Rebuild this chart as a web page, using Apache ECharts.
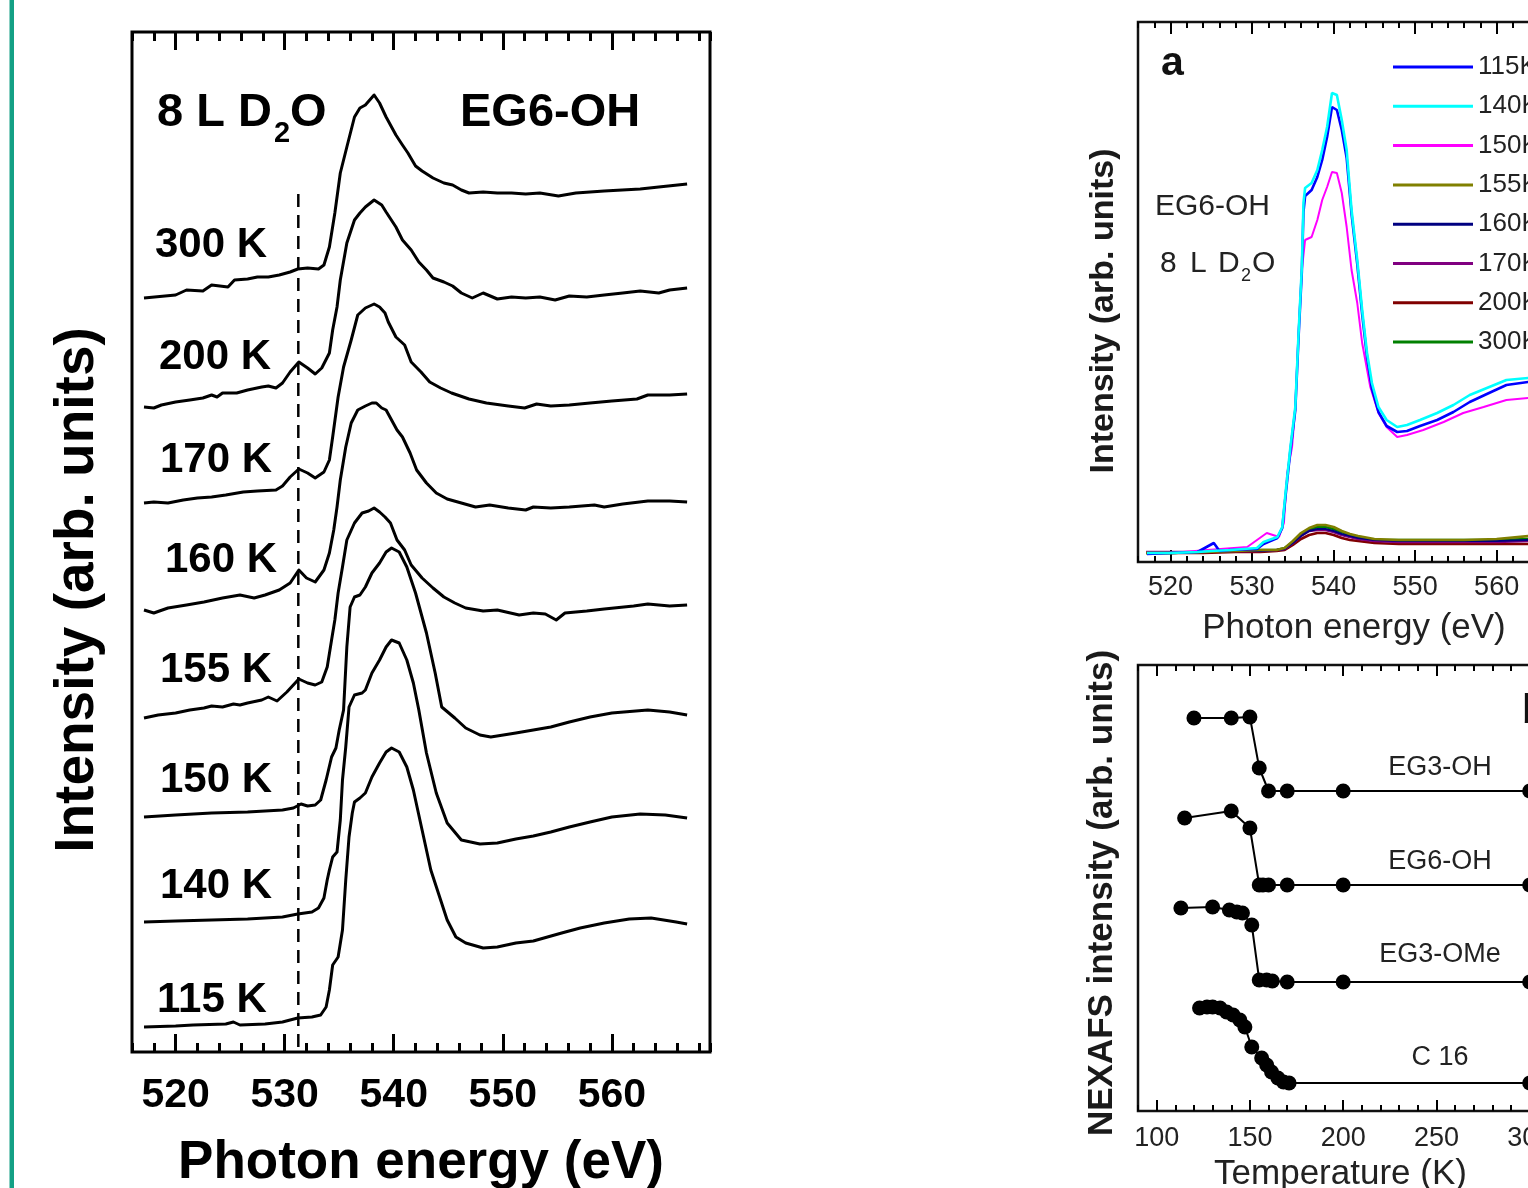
<!DOCTYPE html>
<html><head><meta charset="utf-8">
<script src="https://cdn.jsdelivr.net/npm/echarts@6/dist/echarts.min.js"></script>
<style>html,body{margin:0;padding:0;background:#fff}#c{width:1528px;height:1188px}</style>
</head><body><div id="c"></div>
<script>
// ---------- Left panel: stacked NEXAFS spectra (energy eV, offset intensity) ----------
const spec300K = [[517.1,754],[520,757],[521,762],[522.5,761],[523.3,767],[524.8,765],[525.4,772],[526.6,773],[527.5,775],[528.5,775],[529.5,777],[530.5,780],[531.2,783],[532.1,784],[533.1,783],[533.6,787],[534.1,805],[534.6,839],[535.1,879],[535.7,905],[536.4,935],[536.9,944],[537.4,947],[538.2,957],[538.7,949],[539.3,935],[540.2,917],[540.8,907],[541.3,899],[542,886],[542.6,881],[543.6,874],[544.6,869],[545.4,867],[546.2,862],[546.9,859],[548.2,860],[549.5,859],[550.8,859],[552.1,858],[553.4,859],[555.1,856],[556.7,859],[559.3,861],[562.6,863],[564.3,865],[566.9,868]];
const spec200K = [[517.1,645],[518,644],[518.7,647],[520,650],[521.3,652],[522.5,654],[523.3,657],[523.8,655],[524.3,659],[525.6,659],[526.6,662],[527.9,665],[528.5,666],[529.2,664],[529.8,669],[530.5,680],[531.3,690],[532.1,684],[532.8,678],[533.4,684],[534.1,699],[534.4,722],[534.8,745],[535.1,772],[535.7,809],[536.4,832],[536.9,839],[537.4,845],[538.2,852],[538.9,847],[539.3,840],[540.2,825],[540.8,812],[541.6,802],[542.3,790],[543,782],[543.6,774],[544.6,770],[545.4,766],[546.2,759],[547.2,754],[548.2,759],[549.5,753],[550.8,755],[552.1,754],[553.4,755],[554.8,752],[556.1,756],[557.7,755],[559.3,757],[561,759],[562.6,761],[564.3,759],[565.3,762],[566.9,764]];
const spec170K = [[517.1,549],[518,550],[519.3,549],[520.7,552],[522,554],[523.3,555],[524.6,557],[526.2,560],[527.5,561],[529.2,562],[529.8,566],[530.5,575],[531.3,583],[532.1,579],[532.8,574],[533.6,580],[534.1,592],[534.4,615],[534.9,655],[535.4,685],[536.1,712],[536.7,737],[537.4,744],[538.2,748],[538.7,745],[539.2,739],[539.5,730],[540.2,715],[541,707],[541.6,690],[542.5,680],[543.3,670],[544.3,664],[545.3,659],[546.9,653],[548.5,649],[550.5,646],[552,644],[553.1,648],[554.4,646],[556.1,647],[558,649],[560,651],[562.3,653],[563.3,657],[565.3,657],[566.9,658]];
const spec160K = [[517.1,442],[518,439],[519.3,444],[521,447],[522.6,450],[524.3,454],[525.9,457],[527.2,454],[528.2,457],[529.5,462],[530.5,469],[531.3,482],[532,474],[532.8,470],[533.6,482],[534.1,499],[534.5,522],[534.8,545],[535.1,572],[535.6,605],[536.1,629],[536.7,642],[537.4,646],[538,649],[538.4,649],[538.9,644],[539.3,642],[539.8,632],[540.3,622],[540.8,615],[541.5,599],[542.1,582],[543,569],[543.9,559],[544.9,553],[546.2,549],[547.5,545],[548.8,547],[550.5,544],[552.1,542],[552.8,545],[554.4,544],[556.1,545],[558.4,547],[559.3,545],[561,548],[563.3,551],[565.3,551],[566.9,550]];
const spec155K = [[517.1,334],[518.4,337],[520,339],[521.3,342],[522.6,344],[523.3,346],[524.3,345],[525.3,348],[525.9,347],[526.6,349],[527.9,352],[528.5,355],[529.3,351],[530.2,360],[531.3,373],[532.1,369],[532.8,367],[533.4,370],[533.9,385],[534.3,412],[534.6,432],[534.9,459],[535.3,485],[535.7,512],[536.4,529],[537.1,539],[537.7,541],[538.2,544],[538.7,540],[539.2,535],[539.7,529],[540.3,512],[541,502],[541.6,487],[542.6,474],[543.6,464],[544.6,455],[545.6,449],[546.6,444],[548.2,441],[549.5,442],[551.5,437],[552.8,439],[553.9,438],[554.9,432],[555.7,439],[557.7,441],[559.3,443],[562,446],[563.3,448],[565.3,446],[566.9,447]];
const spec150K = [[517.1,235],[520,237],[523.3,239],[526.6,240],[529.8,242],[530.8,244],[531.5,248],[532.1,246],[532.8,247],[533.3,252],[533.8,272],[534.3,295],[534.7,304],[535,322],[535.4,342],[535.7,405],[536,445],[536.4,455],[536.9,457],[537.4,465],[538,479],[538.7,489],[539.3,500],[539.8,504],[540.5,500],[541.2,485],[542,459],[543,419],[543.8,379],[544.4,345],[545.6,334],[546.6,324],[547.9,317],[548.9,315],[551.2,319],[552.8,322],[554.4,325],[556.1,330],[558,335],[560,339],[563.3,342],[565.3,340],[566.9,337]];
const spec140K = [[517.1,130],[520,131],[523.3,132],[526.6,133],[529.8,135],[531.2,138],[532.5,140],[533.1,144],[533.6,154],[533.9,172],[534.1,182],[534.4,195],[534.8,200],[535.1,232],[535.3,272],[535.6,305],[535.9,345],[536.4,357],[537.1,359],[537.4,362],[538,379],[538.7,392],[539.3,405],[539.8,412],[540.5,409],[541.2,392],[541.8,369],[542.3,342],[543,299],[543.9,259],[544.9,229],[546.2,212],[547.9,208],[549.5,209],[551.2,213],[552.8,216],[554.4,220],[556.1,225],[558,230],[560,235],[562.6,238],[564.9,237],[566.9,234]];
const spec115K = [[517.1,25],[520,26],[521.6,27],[524.6,28],[525.3,30],[525.9,27],[528.2,28],[529.8,30],[531.2,34],[532.5,35],[533.3,37],[533.8,45],[534.1,62],[534.4,87],[534.9,95],[535.3,122],[535.6,172],[535.9,215],[536.2,239],[536.4,250],[536.9,254],[537.4,259],[538,275],[538.7,289],[539.3,300],[539.8,304],[540.5,300],[541.2,285],[541.8,262],[542.6,222],[543.4,182],[544.3,152],[544.9,132],[545.7,115],[546.6,109],[548.2,104],[549.5,105],[551.2,109],[552.8,111],[555.4,119],[557.1,124],[559.3,129],[561.6,133],[563.6,134],[565.9,130],[566.9,128]];
const leftLabels = ['300 K','200 K','170 K','160 K','155 K','150 K','140 K','115 K'];
const dashedEnergy = 531.25;
const dashedRange = [5, 862];

// ---------- Panel a: overlaid spectra ----------
const aLowE = [517,520,524,528,531,533,534,535,536,537,538,539,540,541,542,543,545,548,552,556,560,564];
const a300K = [9,9,10,11,12,12,14,20,27,32,35,35,33,30,27,25,22,22,22,22,22,23];
const a200K = [9,9,9,10,10,11,12,17,23,27,29,29,27,24,22,21,19,18,18,18,18,18];
const a155K = [9,9,10,11,12,12,14,21,29,34,37,37,35,31,28,26,23,22,22,22,23,26];
const a160K = [9,9,10,11,11,12,13,19,26,31,33,33,31,28,26,24,22,21,21,21,21,22];
const a170K = [10,10,10,11,11,12,13,19,26,31,32,32,30,27,25,23,21,20,20,20,20,21];
const a140K = [[517.1,9],[520,9],[523.3,10],[525,11],[527.3,12],[530.6,14],[531.4,20],[533.1,25],[533.7,35],[534.1,69],[534.7,115],[535.3,155],[535.7,229],[536.1,295],[536.3,359],[536.5,374],[537.3,379],[538,392],[538.6,412],[539.2,435],[539.8,469],[540.4,467],[541,442],[541.6,412],[542.2,352],[542.9,302],[543.5,252],[544.1,209],[544.7,179],[545.5,155],[546.5,142],[547.8,135],[549,137],[550.6,142],[552.7,149],[554.7,157],[556.7,167],[558.8,174],[561.2,182],[563.9,184],[566,185]];
const a115K = [[517.1,8],[520,9],[523.3,10],[525.3,19],[526,11],[527.3,12],[530.6,13],[531.4,18],[533.1,24],[533.7,34],[534.1,66],[534.7,112],[535.3,152],[535.7,225],[536.1,290],[536.3,350],[536.5,366],[537.3,372],[538,385],[538.6,402],[539.2,425],[539.8,455],[540.4,452],[541,432],[541.6,404],[542.2,348],[542.9,298],[543.5,248],[544.1,205],[544.7,173],[545.5,150],[546.5,136],[547.8,130],[549,131],[550.6,136],[552.7,142],[554.7,150],[556.7,160],[558.8,168],[561.2,177],[563.9,180],[566,181]];
const a150K = [[517.1,9],[520,9],[524.5,12],[529.4,15],[530.6,22],[531.8,29],[533.3,25],[533.9,39],[534.3,89],[534.9,115],[535.3,155],[535.7,229],[536.1,292],[536.5,322],[537.3,325],[538,342],[538.6,362],[539.2,375],[539.8,390],[540.4,389],[541,369],[541.6,335],[542.2,292],[542.9,259],[543.5,219],[544.5,175],[545.5,149],[546.5,135],[547.8,125],[549,127],[551,132],[553.5,140],[555.9,149],[558.4,155],[561.2,162],[563.9,164],[566,165]];
const legendNames = ['115K','140K','150K','155K','160K','170K','200K','300K'];

// ---------- Panel b: NEXAFS intensity vs temperature ----------
const bEG3OH_T = [120,140,150,155,160,170,200,300];
const bEG3OH_V = [393,393,394,343,320,320,320,320];
const bEG6OH_T = [115,140,150,155,157,160,170,200,300];
const bEG6OH_V = [293,300,283,226,226,226,226,226,226];
const bEG3OMe_T = [113,130,139,143,146,151,155,159,162,170,200,300];
const bEG3OMe_V = [203,204,201,199,198,186,131,131,130,129,129,129];
const bC16_T = [123,127,130,134,137.5,141,144.6,147.3,151,156.3,159,161.6,165,168,171,300];
const bC16_V = [103,104,104,103,99,96,91,84,64,53,46,39,33,29,28,28];
const bNames = ['EG3-OH','EG6-OH','EG3-OMe','C 16'];

const FF = '"Liberation Sans", Arial, sans-serif';
const chart = echarts.init(document.getElementById('c'));

function zip(a, b) { return a.map((x, i) => [x, b[i]]); }

function axisSet(gi, min, max, majors, minorInt, majLen, minLen, w, label, name, nameGap, nameStyle) {
  const base = { type: 'value', gridIndex: gi, min: min, max: max, axisLine: { show: false }, splitLine: { show: false } };
  return [
    Object.assign({}, base, {
      position: 'bottom',
      axisTick: { show: true, inside: true, length: majLen, lineStyle: { color: '#000', width: w }, customValues: majors },
      axisLabel: Object.assign({ customValues: majors }, label),
      name: name, nameLocation: 'middle', nameGap: nameGap, nameTextStyle: nameStyle
    }),
    Object.assign({}, base, { position: 'bottom', interval: minorInt,
      axisTick: { show: true, inside: true, length: minLen, lineStyle: { color: '#000', width: w } }, axisLabel: { show: false } }),
    Object.assign({}, base, { position: 'top',
      axisTick: { show: true, inside: true, length: majLen, lineStyle: { color: '#000', width: w }, customValues: majors }, axisLabel: { show: false } }),
    Object.assign({}, base, { position: 'top', interval: minorInt,
      axisTick: { show: true, inside: true, length: minLen, lineStyle: { color: '#000', width: w } }, axisLabel: { show: false } })
  ];
}

const xAxes = [].concat(
  axisSet(0, 516, 569, [520,530,540,550,560], 2, 18, 9, 3,
    { fontSize: 41, fontWeight: 'bold', color: '#000', margin: 23, fontFamily: FF },
    'Photon energy (eV)', 85, { fontSize: 53, fontWeight: 'bold', color: '#000', fontFamily: FF }),
  axisSet(1, 516, 569, [520,530,540,550,560], 2, 12, 6, 2,
    { fontSize: 27, color: '#222', margin: 12, fontFamily: FF },
    'Photon energy (eV)', 49, { fontSize: 35, color: '#222', fontFamily: FF }),
  axisSet(2, 90, 320, [100,150,200,250,300], 10, 11, 6, 2,
    { fontSize: 27, color: '#222', margin: 14, fontFamily: FF },
    'Temperature (K)', 46, { fontSize: 35, color: '#222', fontFamily: FF, padding: [0, 24, 0, 0] })
);

const hiddenY = (gi, max) => ({ type: 'value', gridIndex: gi, min: 0, max: max, axisLine: { show: false }, axisTick: { show: false }, axisLabel: { show: false }, splitLine: { show: false } });

const leftSpecs = [spec300K, spec200K, spec170K, spec160K, spec155K, spec150K, spec140K, spec115K];
const series = [];
leftSpecs.forEach((d, i) => series.push({
  name: leftLabels[i], type: 'line', xAxisIndex: 0, yAxisIndex: 0, data: d, showSymbol: false, symbol: 'none',
  lineStyle: { color: '#000', width: 3, join: 'round' }, itemStyle: { color: '#000' }, silent: true
}));
series.push({
  name: 'dash', type: 'line', xAxisIndex: 0, yAxisIndex: 0, symbol: 'none',
  data: [[dashedEnergy, dashedRange[0]], [dashedEnergy, dashedRange[1]]],
  lineStyle: { color: '#000', width: 2.5, type: [13, 8] }, silent: true
});

const aColors = { '115K': '#0000ff', '140K': '#00ffff', '150K': '#ff00ff', '155K': '#808000', '160K': '#000080', '170K': '#800080', '200K': '#800000', '300K': '#008000' };
const aData = {
  '300K': zip(aLowE, a300K), '200K': zip(aLowE, a200K), '170K': zip(aLowE, a170K), '160K': zip(aLowE, a160K), '155K': zip(aLowE, a155K),
  '150K': a150K, '115K': a115K, '140K': a140K
};
['300K','200K','170K','160K','155K','150K','115K','140K'].forEach(n => series.push({
  name: n, type: 'line', xAxisIndex: 4, yAxisIndex: 1, data: aData[n], symbol: 'none', showSymbol: false,
  lineStyle: { color: aColors[n], width: (n === '150K' || n === '160K') ? 2 : 2.6 }, itemStyle: { color: aColors[n] }, silent: true
}));

const bData = [zip(bEG3OH_T, bEG3OH_V), zip(bEG6OH_T, bEG6OH_V), zip(bEG3OMe_T, bEG3OMe_V), zip(bC16_T, bC16_V)];
bData.forEach((d, i) => series.push({
  name: bNames[i], type: 'line', xAxisIndex: 8, yAxisIndex: 2, data: d, symbol: 'circle', symbolSize: 15, showSymbol: true,
  lineStyle: { color: '#000', width: 2 }, itemStyle: { color: '#000' }, silent: true
}));

const boldL = (s) => 'bold ' + s + 'px ' + FF;
const txt = (t, x, y, font, extra) => ({ type: 'text', x: x, y: y, silent: true,
  style: Object.assign({ text: t, font: font, fill: '#000', textAlign: 'left', textVerticalAlign: 'middle' }, extra || {}) });
const labelY = [245, 357, 460, 560, 670, 780, 886, 1000];
const labelX = [155, 159, 160, 165, 160, 160, 160, 157];

const graphics = [
  { type: 'rect', shape: { x: 9.5, y: 0, width: 4.5, height: 1188 }, style: { fill: '#14a085' }, silent: true },
  txt('8 L D', 157, 113, boldL(47)), txt('2', 274, 134, boldL(29)), txt('O', 290, 113, boldL(47)),
  txt('EG6-OH', 460, 113, boldL(47)),
  txt('a', 1161, 64, boldL(41), { fill: '#111' }),
  txt('EG6-OH', 1155, 207, '30px ' + FF, { fill: '#222' }),
  txt('8', 1160, 264, '30px ' + FF, { fill: '#222' }), txt('L', 1190, 264, '30px ' + FF, { fill: '#222' }),
  txt('D', 1218, 264, '30px ' + FF, { fill: '#222' }), txt('2', 1241, 276, '18px ' + FF, { fill: '#222' }),
  txt('O', 1252, 264, '30px ' + FF, { fill: '#222' }),
  txt('b', 1522, 712, boldL(41), { fill: '#111' }),
  txt('EG3-OH', 1440, 768, '27px ' + FF, { textAlign: 'center', fill: '#222' }),
  txt('EG6-OH', 1440, 862, '27px ' + FF, { textAlign: 'center', fill: '#222' }),
  txt('EG3-OMe', 1440, 955, '27px ' + FF, { textAlign: 'center', fill: '#222' }),
  txt('C 16', 1440, 1058, '27px ' + FF, { textAlign: 'center', fill: '#222' })
];
const vTitle = (t, x, y, font, fill) => Object.assign(txt(t, x, y, font, { textAlign: 'center', fill: fill }), { rotation: Math.PI / 2 });
graphics.push(vTitle('Intensity (arb. units)', 78, 590, boldL(55), '#000'));
graphics.push(vTitle('Intensity (arb. units)', 1104, 311, boldL(34), '#1a1a1a'));
graphics.push(vTitle('NEXAFS intensity (arb. units)', 1102, 893, boldL(35), '#1a1a1a'));
leftLabels.forEach((t, i) => graphics.push(txt(t, labelX[i], labelY[i], boldL(42))));

chart.setOption({
  animation: false,
  backgroundColor: '#fff',
  grid: [
    { left: 132, top: 32, width: 578, height: 1020, show: true, borderWidth: 3, borderColor: '#000', containLabel: false, outerBoundsMode: 'none' },
    { left: 1138, top: 22, width: 432, height: 540, show: true, borderWidth: 2.5, borderColor: '#111', containLabel: false, outerBoundsMode: 'none' },
    { left: 1138, top: 665, width: 429, height: 446, show: true, borderWidth: 2.5, borderColor: '#111', containLabel: false, outerBoundsMode: 'none' }
  ],
  xAxis: xAxes,
  yAxis: [hiddenY(0, 1020), hiddenY(1, 540), hiddenY(2, 446)],
  legend: {
    data: legendNames, orient: 'vertical', left: 1388, top: 47, itemWidth: 80, itemHeight: 3, itemGap: 9.3,
    icon: 'rect', selectedMode: false, textStyle: { fontSize: 26, color: '#222', fontFamily: FF, lineHeight: 30 }
  },
  series: series,
  graphic: graphics
});
</script></body></html>
